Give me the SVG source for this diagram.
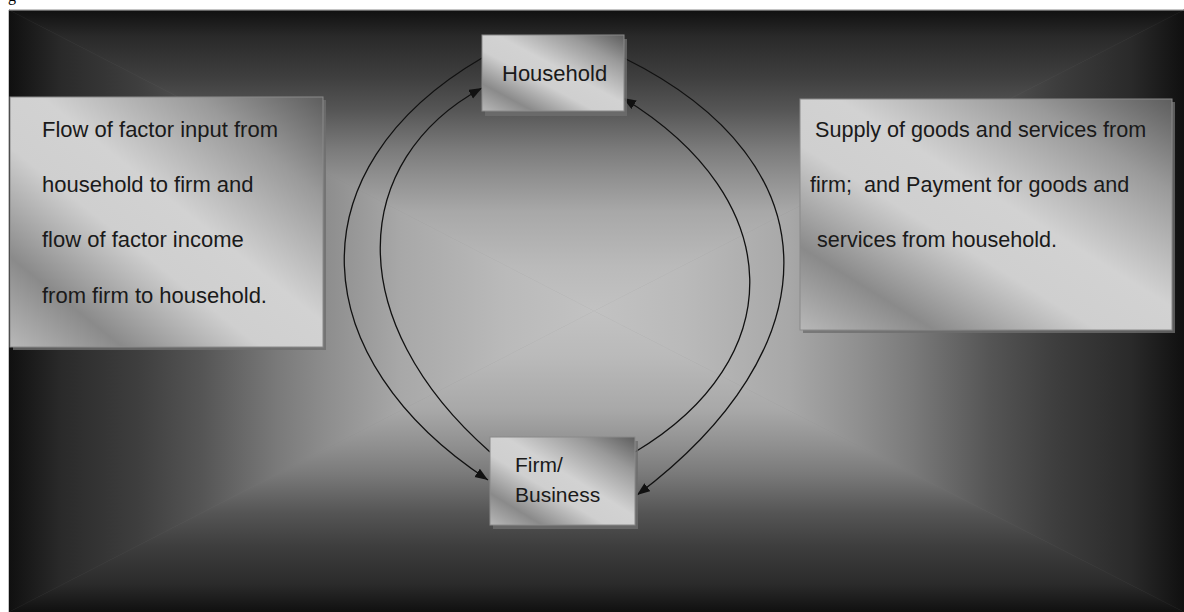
<svg xmlns="http://www.w3.org/2000/svg" width="1184" height="612" viewBox="0 0 1184 612">
<style>
.lbl{font-family:"Liberation Sans","Open Sans",Arial,sans-serif;fill:#1a1a1a;white-space:pre}
.box{stroke:#8a8a8a;stroke-width:1}
.shadow{fill:#6e6e6e;opacity:0.8}
.conn{fill:none;stroke:#111;stroke-width:1.3}
.s0{stop-color:#101010}.s1{stop-color:#2a2a2a}.s2{stop-color:#3e3e3e}.s3{stop-color:#555555}.s4{stop-color:#7a7a7a}.s5{stop-color:#8f8f8f}.s6{stop-color:#a8a8a8}.s7{stop-color:#bababa}.s8{stop-color:#c2c2c2}
</style>
<defs>
<linearGradient id="gTop" gradientUnits="userSpaceOnUse" x1="0" y1="10" x2="0" y2="311">
<stop offset="0" class="s0"/><stop offset="0.09" class="s1"/><stop offset="0.22" class="s2"/><stop offset="0.33" class="s3"/><stop offset="0.46" class="s4"/><stop offset="0.55" class="s5"/><stop offset="0.67" class="s6"/><stop offset="0.85" class="s7"/><stop offset="1" class="s8"/>
</linearGradient>
<linearGradient id="gBot" gradientUnits="userSpaceOnUse" x1="0" y1="612" x2="0" y2="311">
<stop offset="0" class="s0"/><stop offset="0.09" class="s1"/><stop offset="0.22" class="s2"/><stop offset="0.33" class="s3"/><stop offset="0.46" class="s4"/><stop offset="0.55" class="s5"/><stop offset="0.67" class="s6"/><stop offset="0.85" class="s7"/><stop offset="1" class="s8"/>
</linearGradient>
<linearGradient id="gLeft" gradientUnits="userSpaceOnUse" x1="9" y1="0" x2="594" y2="0">
<stop offset="0" class="s0"/><stop offset="0.09" class="s1"/><stop offset="0.22" class="s2"/><stop offset="0.33" class="s3"/><stop offset="0.46" class="s4"/><stop offset="0.55" class="s5"/><stop offset="0.67" class="s6"/><stop offset="0.85" class="s7"/><stop offset="1" class="s8"/>
</linearGradient>
<linearGradient id="gRight" gradientUnits="userSpaceOnUse" x1="1184" y1="0" x2="594" y2="0">
<stop offset="0" class="s0"/><stop offset="0.09" class="s1"/><stop offset="0.22" class="s2"/><stop offset="0.33" class="s3"/><stop offset="0.46" class="s4"/><stop offset="0.55" class="s5"/><stop offset="0.67" class="s6"/><stop offset="0.85" class="s7"/><stop offset="1" class="s8"/>
</linearGradient>
<linearGradient id="gBox" x1="1" y1="0" x2="0" y2="1">
<stop offset="0" stop-color="#5e5e5e"/><stop offset="0.2" stop-color="#9a9a9a"/><stop offset="0.45" stop-color="#d2d2d2"/><stop offset="0.6" stop-color="#cfcfcf"/><stop offset="0.82" stop-color="#8a8a8a"/><stop offset="1" stop-color="#b8b8b8"/>
</linearGradient>
<marker id="arr" markerUnits="userSpaceOnUse" markerWidth="14" markerHeight="12" refX="13" refY="5" orient="auto">
<path d="M0,0 L13,5 L0,10 Z" fill="#111"/>
</marker>
</defs>

<g id="background">
<rect x="9" y="10" width="1175" height="602" fill="#7a7a7a"/>
<polygon points="9,10 1184,10 594,311" fill="url(#gTop)" stroke="url(#gTop)" stroke-width="0.5"/>
<polygon points="9,612 1184,612 594,311" fill="url(#gBot)" stroke="url(#gBot)" stroke-width="0.5"/>
<polygon points="9,10 9,612 594,311" fill="url(#gLeft)" stroke="url(#gLeft)" stroke-width="0.5"/>
<polygon points="1184,10 1184,612 594,311" fill="url(#gRight)" stroke="url(#gRight)" stroke-width="0.5"/>
<line x1="9" y1="10.5" x2="1184" y2="10.5" stroke="#666" stroke-width="1"/>
</g>
<text x="8" y="1" font-family="'Liberation Serif',serif" font-size="16" fill="#000">g</text>

<g id="connectors">
<path class="conn" d="M482,58 C290,170 305,360 488,480" marker-end="url(#arr)"/>
<path class="conn" d="M490,452 C340,320 350,160 482,88" marker-end="url(#arr)"/>
<path class="conn" d="M624,58 C840,165 830,350 637,495" marker-end="url(#arr)"/>
<path class="conn" d="M635,452 C790,360 790,200 623,98" marker-end="url(#arr)"/>
</g>

<g id="left-note">
<rect class="shadow" x="13" y="100" width="313" height="250"/>
<rect class="box" x="10" y="97" width="313" height="250" fill="url(#gBox)"/>
<text class="lbl" font-size="22" x="42" y="137">Flow of factor input from</text>
<text class="lbl" font-size="22" x="42" y="192">household to firm and</text>
<text class="lbl" font-size="22" x="42" y="247">flow of factor income</text>
<text class="lbl" font-size="22" x="42" y="303">from firm to household.</text>
</g>

<g id="right-note">
<rect class="shadow" x="803" y="102" width="372" height="231"/>
<rect class="box" x="800" y="99" width="372" height="231" fill="url(#gBox)"/>
<text class="lbl" font-size="21.6" x="815" y="137">Supply of goods and services from</text>
<text class="lbl" font-size="21.6" x="810" y="192">firm;  and Payment for goods and</text>
<text class="lbl" font-size="21.6" x="817" y="247">services from household.</text>
</g>

<g id="household">
<rect class="shadow" x="485" y="39" width="142" height="77"/>
<rect class="box" x="482" y="35" width="142" height="76" fill="url(#gBox)"/>
<text class="lbl" font-size="22" x="502" y="81">Household</text>
</g>

<g id="firm">
<rect class="shadow" x="493" y="441" width="145" height="88"/>
<rect class="box" x="490" y="437" width="145" height="88" fill="url(#gBox)"/>
<text class="lbl" font-size="21" x="515" y="472">Firm/</text>
<text class="lbl" font-size="21" x="515" y="502">Business</text>
</g>
</svg>
